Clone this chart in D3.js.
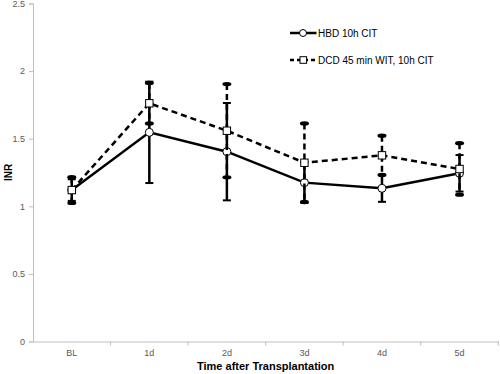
<!DOCTYPE html>
<html>
<head>
<meta charset="utf-8">
<script src="https://cdn.jsdelivr.net/npm/d3@7"></script>
<style>
  body { margin: 0; background: #fff; }
  svg { display: block; font-family: "Liberation Sans", Arial, sans-serif; }
</style>
</head>
<body>
<div id="container"></div>
<script>
    // data
    const days = ["BL", "1d", "2d", "3d", "4d", "5d"];
    const yTicks = [0, 0.5, 1, 1.5, 2, 2.5];
    const hbdMean = [1.12, 1.547, 1.404, 1.175, 1.133, 1.244];
    const hbdErr = [0.08, 0.375, 0.36, 0.15, 0.10, 0.135];
    const dcdMean = [1.12, 1.762, 1.559, 1.322, 1.377, 1.276];
    const dcdErr = [0.095, 0.15, 0.345, 0.29, 0.145, 0.19];
    const seriesNames = ["HBD 10h CIT", "DCD 45 min WIT, 10h CIT"];

    const width = 500;
    const height = 374;
    const marginTop = 3.5;
    const marginRight = 1.7;
    const marginBottom = 32.5;
    const marginLeft = 33;

    const svg = d3.create("svg")
        .attr("width", width)
        .attr("height", height);

    const x = d3.scaleBand()
        .domain(days)
        .range([marginLeft, width - marginRight])
        .padding(0);

    const y = d3.scaleLinear()
        .domain([0, 2.5])
        .range([height - marginBottom, marginTop]);

    const axisColor = "#bfbfbf";
    const labelColor = "#595959";

    // y axis
    const yAxis = svg.append("g")
        .attr("transform", `translate(${marginLeft},0)`)
        .call(d3.axisLeft(y).tickValues(yTicks).tickSize(4).tickPadding(4).tickFormat(d => String(d)));
    yAxis.select(".domain").attr("stroke", axisColor);
    yAxis.selectAll(".tick line").attr("stroke", axisColor);
    yAxis.selectAll(".tick text")
        .attr("fill", labelColor)
        .attr("font-size", 9)
        .attr("font-family", "Liberation Sans, Arial, sans-serif");

    // x axis: labels at band centres, ticks at band edges
    const xAxis = svg.append("g")
        .attr("transform", `translate(0,${y(0)})`)
        .call(d3.axisBottom(x).tickSizeOuter(0).tickSizeInner(0).tickPadding(8));
    xAxis.select(".domain").attr("stroke", axisColor);
    xAxis.selectAll(".tick text")
        .attr("fill", labelColor)
        .attr("font-size", 9)
        .attr("font-family", "Liberation Sans, Arial, sans-serif");
    xAxis.selectAll(".edge")
        .data(days)
        .join("line")
        .attr("class", "edge")
        .attr("x1", d => x(d) + x.bandwidth())
        .attr("x2", d => x(d) + x.bandwidth())
        .attr("y1", 0)
        .attr("y2", 4)
        .attr("stroke", axisColor);

    // axis titles
    svg.append("text")
        .attr("x", (marginLeft + width - marginRight) / 2)
        .attr("y", 370)
        .attr("text-anchor", "middle")
        .attr("font-weight", "bold")
        .attr("font-size", 11)
        .attr("fill", "#000")
        .text("Time after Transplantation");

    svg.append("text")
        .attr("transform", `translate(12,${(y(0) + y(2.5)) / 2}) rotate(-90)`)
        .attr("text-anchor", "middle")
        .attr("font-weight", "bold")
        .attr("font-size", 10)
        .attr("fill", "#000")
        .text("INR");

    const cx = d => x(d) + x.bandwidth() / 2;

    function drawSeries(mean, err, dash, capType, marker) {
        const g = svg.append("g");
        const pts = days.map((d, i) => ({ d, m: mean[i], e: err[i] }));

        // error bars
        g.selectAll(".err")
            .data(pts)
            .join("line")
            .attr("x1", p => cx(p.d))
            .attr("x2", p => cx(p.d))
            .attr("y1", p => y(p.m + p.e))
            .attr("y2", p => y(p.m - p.e))
            .attr("stroke", "#000")
            .attr("stroke-width", 2.5)
            .attr("stroke-dasharray", dash);

        const caps = pts.flatMap(p => [p.m + p.e, p.m - p.e].map(v => ({ d: p.d, v })));
        if (capType === "flat") {
            g.selectAll(".cap")
                .data(caps)
                .join("line")
                .attr("x1", c => cx(c.d) - 4)
                .attr("x2", c => cx(c.d) + 4)
                .attr("y1", c => y(c.v))
                .attr("y2", c => y(c.v))
                .attr("stroke", "#000")
                .attr("stroke-width", 2);
        } else {
            g.selectAll(".cap")
                .data(caps)
                .join("ellipse")
                .attr("cx", c => cx(c.d))
                .attr("cy", c => y(c.v))
                .attr("rx", 4.5)
                .attr("ry", 2.2)
                .attr("fill", "#000");
        }

        // line
        g.append("path")
            .datum(pts)
            .attr("fill", "none")
            .attr("stroke", "#000")
            .attr("stroke-width", 2.5)
            .attr("stroke-dasharray", dash)
            .attr("d", d3.line().x(p => cx(p.d)).y(p => y(p.m)));

        // markers
        if (marker === "circle") {
            g.selectAll(".mk")
                .data(pts)
                .join("circle")
                .attr("cx", p => cx(p.d))
                .attr("cy", p => y(p.m))
                .attr("r", 4)
                .attr("fill", "#fff")
                .attr("stroke", "#000")
                .attr("stroke-width", 1);
        } else {
            g.selectAll(".mk")
                .data(pts)
                .join("rect")
                .attr("x", p => cx(p.d) - 3.7)
                .attr("y", p => y(p.m) - 3.7)
                .attr("width", 7.4)
                .attr("height", 7.4)
                .attr("fill", "#fff")
                .attr("stroke", "#000")
                .attr("stroke-width", 1);
        }
    }

    drawSeries(hbdMean, hbdErr, null, "flat", "circle");
    drawSeries(dcdMean, dcdErr, "6,4", "oval", "square");

    // legend
    const legend = svg.append("g");
    const legendRows = [
        { name: seriesNames[0], dash: null, marker: "circle", ly: 33 },
        { name: seriesNames[1], dash: "4,3", marker: "square", ly: 60 }
    ];
    legendRows.forEach(r => {
        legend.append("line")
            .attr("x1", 290).attr("x2", 316.5)
            .attr("y1", r.ly).attr("y2", r.ly)
            .attr("stroke", "#000")
            .attr("stroke-width", 2.5)
            .attr("stroke-dasharray", r.dash);
        if (r.marker === "circle") {
            legend.append("circle")
                .attr("cx", 303).attr("cy", r.ly).attr("r", 3.5)
                .attr("fill", "#fff").attr("stroke", "#000");
        } else {
            legend.append("rect")
                .attr("x", 300).attr("y", r.ly - 3.3)
                .attr("width", 6.6).attr("height", 6.6)
                .attr("fill", "#fff").attr("stroke", "#000");
        }
        legend.append("text")
            .attr("x", 318)
            .attr("y", r.ly + 3.5)
            .attr("font-size", 10)
            .attr("fill", "#000")
            .text(r.name);
    });

    container.append(svg.node());
</script>
</body>
</html>
